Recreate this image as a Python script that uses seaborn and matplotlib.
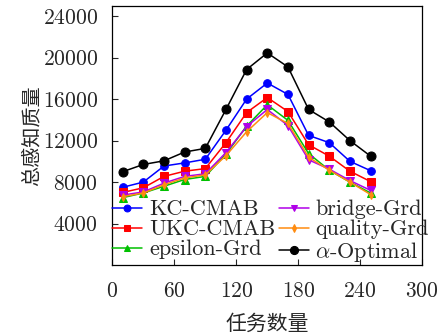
import numpy as np
import pandas as pd
import matplotlib
matplotlib.use("Agg")
import matplotlib.pyplot as plt
import seaborn as sns

tasks = [10, 30, 50, 70, 90, 110, 130, 150, 170, 190, 210, 230, 250]
kc_cmab = [7500, 8000, 9550, 9850, 10200, 13000, 16000, 17550, 16450, 12500, 11800, 10000, 9100]
ukc_cmab = [7000, 7450, 8550, 9050, 9300, 11800, 14700, 16150, 14800, 11600, 10500, 9050, 8050]
epsilon_grd = [6500, 6950, 7600, 8250, 8550, 10700, 13400, 15450, 13950, 10750, 9150, 8000, 6950]
bridge_grd = [6750, 7050, 7900, 8550, 8800, 10850, 13350, 15000, 13450, 10150, 9250, 8150, 7200]
quality_grd = [6600, 6950, 7750, 8400, 8700, 10550, 12850, 14700, 13650, 10400, 9150, 8000, 6800]
alpha_opt = [9000, 9700, 10050, 10900, 11250, 15000, 18850, 20450, 19100, 15000, 13800, 12000, 10500]

names = ["KC-CMAB", "UKC-CMAB", "epsilon-Grd", "bridge-Grd", "quality-Grd", r"$\alpha$-Optimal"]
series = [kc_cmab, ukc_cmab, epsilon_grd, bridge_grd, quality_grd, alpha_opt]
colors = ["#0000ff", "#ff0000", "#00c000", "#b000e8", "#ff8c10", "#000000"]
markers = ["o", "s", "^", "v", "d", "o"]
msizes = [5.5, 5.5, 5.5, 5.5, 4, 6.5]

df = pd.DataFrame({
    "tasks": np.tile(tasks, len(names)),
    "val": np.concatenate(series),
    "alg": np.repeat(names, len(tasks)),
})

sns.set_style("ticks")
plt.rcParams["font.family"] = ["cmr10", "DejaVu Serif"]
plt.rcParams["mathtext.fontset"] = "cm"
plt.rcParams["axes.formatter.use_mathtext"] = True

fig = plt.figure(figsize=(4.44, 3.36), dpi=100)
ax = fig.add_axes([0.253, 0.211, 0.698, 0.772])

for name, c, m, ms in zip(names, colors, markers, msizes):
    sub = df[df["alg"] == name]
    sns.lineplot(data=sub, x="tasks", y="val", ax=ax, color=c, marker=m,
                 markersize=ms, markeredgecolor=c, linewidth=1.1, label=name,
                 errorbar=None)

ax.set_xlim(0, 300)
ax.set_ylim(0, 25000)
ax.set_xticks([0, 60, 120, 180, 240, 300])
ax.set_yticks([4000, 8000, 12000, 16000, 20000, 24000])
ax.tick_params(direction="in", labelsize=15.5, length=4, width=0.8, top=False, right=False)
ax.tick_params(axis="x", pad=12)
ax.tick_params(axis="y", pad=10.5)
for s in ax.spines.values():
    s.set_linewidth(0.9)
    s.set_color("black")

ax.set_xlabel("任务数量", family=["Noto Sans CJK SC"], fontsize=15, labelpad=8)
ax.set_ylabel("总感知质量", family=["Noto Sans CJK SC"], fontsize=14.5, labelpad=0)

ax.legend(ncol=2, loc="lower left", bbox_to_anchor=(0.0, 0.005), frameon=False,
          fontsize=16, handlelength=1.35, handletextpad=0.3, columnspacing=0.15,
          labelspacing=0.02, borderaxespad=0.0, borderpad=0.0, markerscale=0.9)

fig.savefig("out.png", dpi=100)
